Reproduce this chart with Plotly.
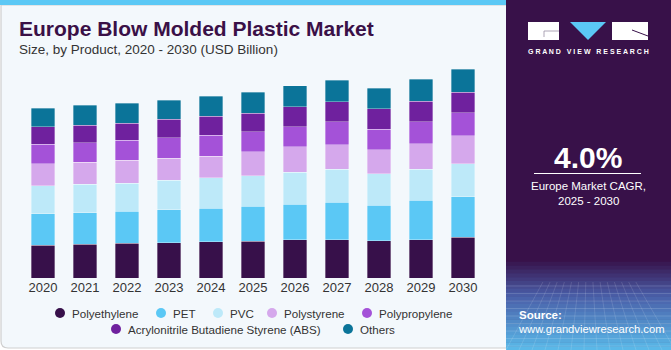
import plotly.graph_objects as go

years = ["2020", "2021", "2022", "2023", "2024", "2025", "2026", "2027", "2028", "2029", "2030"]
polyethylene = [4.05, 4.19, 4.31, 4.39, 4.48, 4.60, 4.73, 4.77, 4.64, 4.77, 5.06]
pet = [3.94, 3.94, 4.02, 4.10, 4.19, 4.31, 4.44, 4.64, 4.39, 4.89, 5.06]
pvc = [3.48, 3.52, 3.44, 3.65, 3.81, 3.81, 3.98, 4.10, 3.94, 3.89, 4.10]
polystyrene = [2.77, 2.74, 2.86, 2.74, 2.69, 2.99, 3.15, 3.07, 2.99, 3.15, 3.48]
polypropylene = [2.41, 2.45, 2.53, 2.57, 2.61, 2.49, 2.53, 2.86, 2.57, 2.74, 2.86]
abs_ = [2.15, 2.15, 2.07, 2.28, 2.32, 2.32, 2.49, 2.49, 2.53, 2.57, 2.57]
others = [2.33, 2.49, 2.53, 2.36, 2.49, 2.61, 2.57, 2.69, 2.53, 2.69, 2.86]

series_names = ["Polyethylene", "PET", "PVC", "Polystyrene", "Polypropylene",
                "Acrylonitrile Butadiene Styrene (ABS)", "Others"]
series_values = [polyethylene, pet, pvc, polystyrene, polypropylene, abs_, others]
colors = ["#37104A", "#5BC8F5", "#BDE9F9", "#D5A8EC", "#A452D8", "#6F219E", "#0B7499"]

highlight_year = "2024"
highlight_label = "$22.6B"
cagr_text = "4.0%"

W, H = 671, 350
ML, MR, MT, MB = 22, 187, 53, 72
PW, PH = W - ML - MR, H - MT - MB


def px(x):
    return (x - ML) / PW


def py(y):
    return (H - MB - y) / PH


fig = go.Figure()
for name, vals, col in zip(series_names, series_values, colors):
    fig.add_trace(go.Bar(
        x=years, y=vals, name=name, marker_color=col,
        marker_line=dict(width=0.6, color="rgba(255,255,255,0.55)"),
        showlegend=False, hoverinfo="skip"))

totals = [sum(v) for v in zip(*series_values)]
hi = years.index(highlight_year)

shapes = []
ann = []
# left panel
shapes.append(dict(type="path", xref="paper", yref="paper",
                   path=f"M {px(1)},{py(5)} L {px(1)},{py(341)} Q {px(1)},{py(348)} {px(8)},{py(348)} L {px(510)},{py(348)} L {px(510)},{py(5)} Z",
                   fillcolor="#F3F8FC", line=dict(color="#CFCFCF", width=1.2), layer="below"))
shapes.append(dict(type="rect", xref="paper", yref="paper", x0=px(0), x1=px(507), y0=py(0), y1=py(5),
                   fillcolor="#5BC8F5", line_width=0, layer="below"))
# right panel
shapes.append(dict(type="rect", xref="paper", yref="paper", x0=px(506), x1=px(671), y0=py(0), y1=py(350),
                   fillcolor="#381149", line_width=0, layer="below"))
n = 24
y_start, y_end = 258, 350
c0 = (0x38, 0x11, 0x49)
c_mid = (0x4A, 0x5E, 0xA8)
c1 = (0x5A, 0xB8, 0xE8)
for k in range(n):
    t = k / (n - 1)
    if t < 0.4:
        s = t / 0.4
        c = tuple(int(c0[j] + (c_mid[j] - c0[j]) * s) for j in range(3))
    else:
        s = (t - 0.4) / 0.6
        c = tuple(int(c_mid[j] + (c1[j] - c_mid[j]) * s) for j in range(3))
    ya = y_start + (y_end - y_start) * k / n
    yb = y_start + (y_end - y_start) * (k + 1) / n
    shapes.append(dict(type="rect", xref="paper", yref="paper", x0=px(506), x1=px(671),
                       y0=py(ya), y1=py(yb + 0.5), fillcolor="rgb(%d,%d,%d)" % c, line_width=0, layer="below"))
for k in range(9):
    yy = 286 + k * 7.5
    shapes.append(dict(type="line", xref="paper", yref="paper", x0=px(506), x1=px(671), y0=py(yy), y1=py(yy),
                       line=dict(color="rgba(255,255,255,0.18)", width=0.8), layer="below"))
for k in range(14):
    xb = 506 + k * 13
    xt = 588 + (xb - 588) * 0.55
    shapes.append(dict(type="line", xref="paper", yref="paper", x0=px(xt), x1=px(xb), y0=py(282), y1=py(350),
                       line=dict(color="rgba(255,255,255,0.16)", width=0.8), layer="below"))
# logo
shapes.append(dict(type="rect", xref="paper", yref="paper", x0=px(528), x1=px(559), y0=py(22), y1=py(40),
                   fillcolor="white", line_width=0))
shapes.append(dict(type="path", xref="paper", yref="paper",
                   path=f"M {px(570)},{py(22)} L {px(606)},{py(22)} L {px(588)},{py(40)} Z",
                   fillcolor="#5BC8F5", line_width=0))
shapes.append(dict(type="rect", xref="paper", yref="paper", x0=px(612), x1=px(648), y0=py(22), y1=py(40),
                   fillcolor="white", line_width=0))
shapes.append(dict(type="line", xref="paper", yref="paper", x0=px(544), x1=px(559), y0=py(31), y1=py(31),
                   line=dict(color="#9A8FA5", width=0.8)))
shapes.append(dict(type="line", xref="paper", yref="paper", x0=px(544), x1=px(544), y0=py(31), y1=py(37),
                   line=dict(color="#9A8FA5", width=0.8)))
shapes.append(dict(type="line", xref="paper", yref="paper", x0=px(632), x1=px(648), y0=py(30), y1=py(36),
                   line=dict(color="#381149", width=1)))
shapes.append(dict(type="line", xref="paper", yref="paper", x0=px(534), x1=px(641), y0=py(173.5), y1=py(173.5),
                   line=dict(color="white", width=1)))

# legend (manual, two centred rows)
legend_pos = [(60, 313), (161, 313), (218, 313), (272, 313), (367, 313), (116, 329), (348, 329)]
for name, col, (lx, ly) in zip(series_names, colors, legend_pos):
    shapes.append(dict(type="circle", xref="paper", yref="paper", xsizemode="pixel", ysizemode="pixel",
                       xanchor=px(lx), yanchor=py(ly), x0=-5, x1=5, y0=-5, y1=5,
                       fillcolor=col, line_width=0))
    ann.append(dict(text=name, x=px(lx + 10), y=py(ly), xref="paper", yref="paper",
                    xanchor="left", yanchor="middle", showarrow=False,
                    font=dict(size=11.6, color="#333333", family="Liberation Sans")))

ann.append(dict(text="<b>Europe Blow Molded Plastic Market</b>", x=px(17), y=py(28.5), xref="paper", yref="paper",
                xanchor="left", yanchor="middle", showarrow=False,
                font=dict(size=21, color="#3A1047", family="Liberation Sans")))
ann.append(dict(text="Size, by Product, 2020 - 2030 (USD Billion)", x=px(17), y=py(49.5), xref="paper", yref="paper",
                xanchor="left", yanchor="middle", showarrow=False,
                font=dict(size=13.5, color="#333333", family="Liberation Sans")))
ann.append(dict(text=highlight_label, x=years[hi], y=totals[hi], xref="x", yref="y",
                xanchor="center", yanchor="bottom", yshift=6, showarrow=False,
                font=dict(size=13, color="#333333", family="Liberation Sans")))
ann.append(dict(text="<b>G R A N D   V I E W   R E S E A R C H</b>", x=px(588), y=py(52), xref="paper", yref="paper",
                xanchor="center", yanchor="middle", showarrow=False,
                font=dict(size=7.0, color="white", family="Liberation Sans")))
ann.append(dict(text=f"<b>{cagr_text}</b>", x=px(588), y=py(157), xref="paper", yref="paper",
                xanchor="center", yanchor="middle", showarrow=False,
                font=dict(size=30, color="white", family="Liberation Sans")))
ann.append(dict(text="Europe Market CAGR,", x=px(588), y=py(186), xref="paper", yref="paper",
                xanchor="center", yanchor="middle", showarrow=False,
                font=dict(size=11.5, color="white", family="Liberation Sans")))
ann.append(dict(text="2025 - 2030", x=px(588), y=py(201), xref="paper", yref="paper",
                xanchor="center", yanchor="middle", showarrow=False,
                font=dict(size=11.5, color="white", family="Liberation Sans")))
ann.append(dict(text="<b>Source:</b>", x=px(517), y=py(315), xref="paper", yref="paper",
                xanchor="left", yanchor="middle", showarrow=False,
                font=dict(size=11.5, color="white", family="Liberation Sans")))
ann.append(dict(text="www.grandviewresearch.com", x=px(516), y=py(329), xref="paper", yref="paper",
                xanchor="left", yanchor="middle", showarrow=False,
                font=dict(size=11.2, color="white", family="Liberation Sans")))

fig.update_layout(
    width=W, height=H,
    margin=dict(l=ML, r=MR, t=MT, b=MB, pad=0),
    paper_bgcolor="white", plot_bgcolor="rgba(0,0,0,0)",
    barmode="stack", bargap=0.43, showlegend=False,
    font=dict(family="Liberation Sans", color="#333333"),
    xaxis=dict(type="category", range=[-0.5, 10.5], showgrid=False, zeroline=False, showline=False,
               ticks="", tickfont=dict(size=13, color="#333333"), fixedrange=True),
    yaxis=dict(range=[0, PH / 8.04], visible=False, fixedrange=True),
    shapes=shapes, annotations=ann,
)

fig.write_html("out.html")
